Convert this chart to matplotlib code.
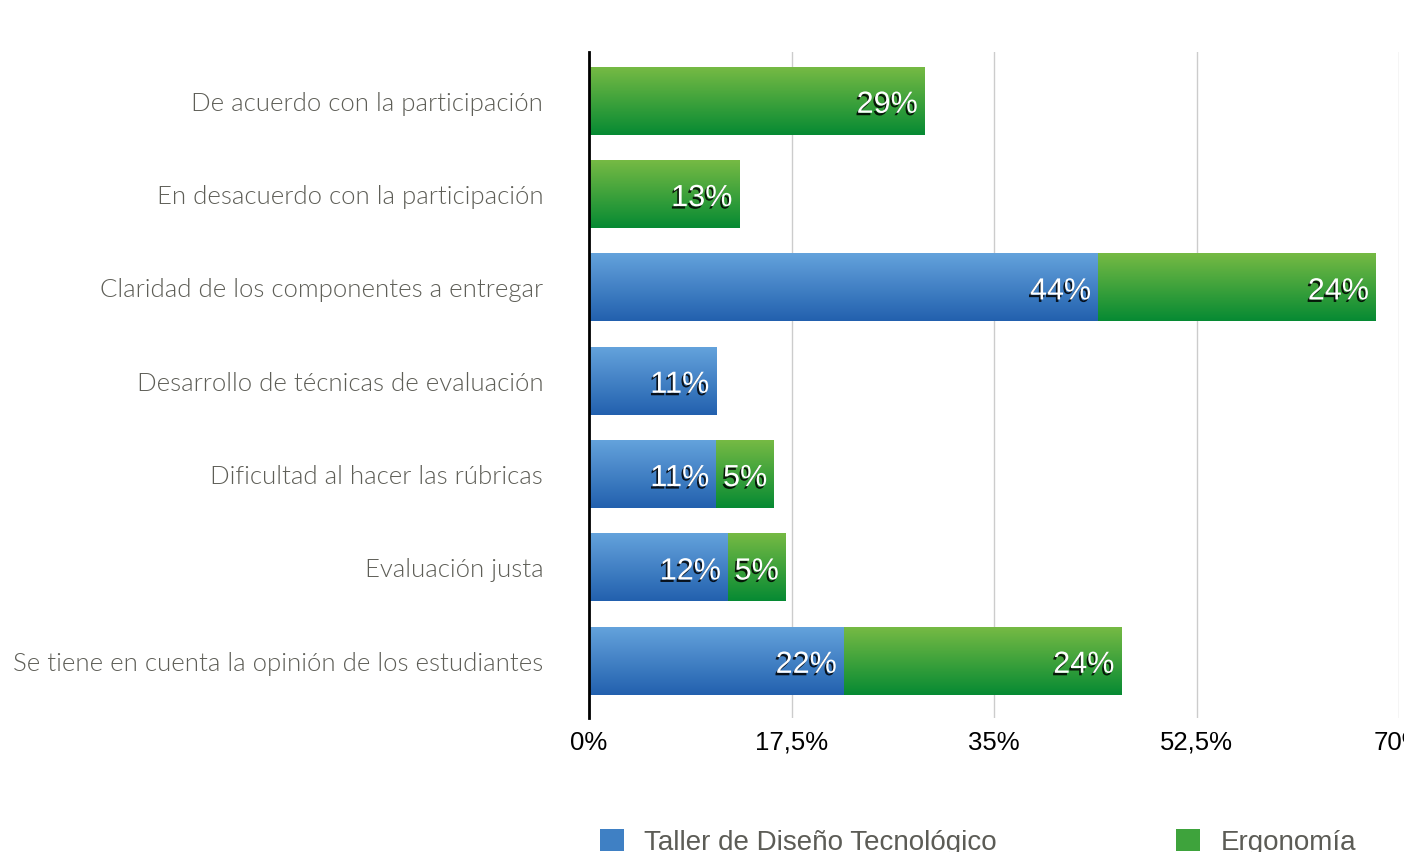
import matplotlib
matplotlib.use("Agg")
import matplotlib.pyplot as plt
import matplotlib.patheffects as pe
import numpy as np
from matplotlib.colors import LinearSegmentedColormap

categories = [
    "De acuerdo con la participación",
    "En desacuerdo con la participación",
    "Claridad de los componentes a entregar",
    "Desarrollo de técnicas de evaluación",
    "Dificultad al hacer las rúbricas",
    "Evaluación justa",
    "Se tiene en cuenta la opinión de los estudiantes",
]
taller = [0, 0, 44, 11, 11, 12, 22]
ergonomia = [29, 13, 24, 0, 5, 5, 24]
series_names = ["Taller de Diseño Tecnológico", "Ergonomía"]
xticks = [0, 17.5, 35, 52.5, 70]
xtick_labels = ["0%", "17,5%", "35%", "52,5%", "70%"]

W, H = 1404, 852
fig = plt.figure(figsize=(W / 100, H / 100), dpi=100)
ax = fig.add_axes([589 / W, (H - 718) / H, (1399 - 589) / W, (718 - 52) / H])

y = np.arange(len(categories))
bh = 0.72
blue_mid, green_mid = "#3f80c4", "#3ea33c"
b1 = ax.barh(y, taller, height=bh, color=blue_mid, label=series_names[0], zorder=2)
b2 = ax.barh(y, ergonomia, left=taller, height=bh, color=green_mid, label=series_names[1], zorder=2)

cm_blue = LinearSegmentedColormap.from_list("b", ["#64a3dc", "#2260ae"])
cm_green = LinearSegmentedColormap.from_list("g", ["#76ba44", "#068a33"])
grad = np.linspace(0, 1, 256).reshape(-1, 1)
for bars, cm in ((b1, cm_blue), (b2, cm_green)):
    for p in bars:
        if p.get_width() <= 0:
            continue
        x0, y0 = p.get_x(), p.get_y()
        w, h = p.get_width(), p.get_height()
        ax.imshow(grad, cmap=cm, aspect="auto", origin="upper",
                  extent=(x0, x0 + w, y0 + h, y0), zorder=3, interpolation="bilinear")

shadow = [pe.SimplePatchShadow(offset=(-1.2, -1.8), shadow_rgbFace="black", alpha=0.85), pe.Normal()]
for bars, vals in ((b1, taller), (b2, ergonomia)):
    for p, v in zip(bars, vals):
        if v <= 0:
            continue
        ax.text(p.get_x() + p.get_width() - 0.6, p.get_y() + p.get_height() / 2 + 0.04, f"{v}%",
                ha="right", va="center", color="white", fontsize=22,
                family="Liberation Sans", path_effects=shadow, zorder=5)

ax.set_xlim(0, 70)
ax.set_ylim(6.61, -0.525)
ax.set_xticks(xticks)
ax.set_xticklabels(xtick_labels, fontsize=18.5, family="Liberation Sans", color="black")
ax.set_yticks(y)
ax.set_yticklabels(categories, fontsize=18.5, family="Lato", fontweight=300, color="#5e5e57")
ax.tick_params(axis="y", length=0, pad=33)
ax.tick_params(axis="x", length=0, pad=9)
ax.grid(axis="x", color="#cccccc", linewidth=1, zorder=0)
for s in ("top", "right", "bottom"):
    ax.spines[s].set_visible(False)
ax.spines["left"].set_linewidth(2)
ax.spines["left"].set_color("black")
ax.spines["left"].set_zorder(6)

fig.legend(handles=[b1, b2], labels=series_names, loc="upper left",
           bbox_to_anchor=(575 / W, (H - 804) / H), ncol=2, frameon=False,
           prop={"family": "Liberation Sans", "size": 20}, labelcolor="#5c5c56",
           handlelength=0.85, handleheight=0.85, handletextpad=0.75, columnspacing=6.45)

fig.savefig("out.png", dpi=100)
